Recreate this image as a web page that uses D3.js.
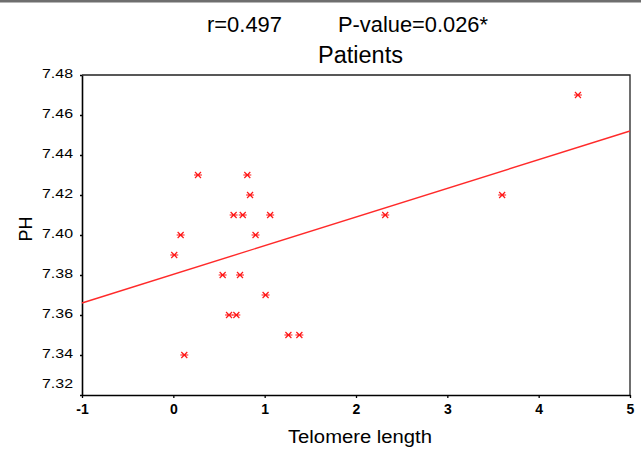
<!DOCTYPE html>
<html>
<head>
  <meta charset="utf-8">
  <script src="https://cdn.jsdelivr.net/npm/d3@7"></script>
  <style>
    body { margin: 0; background: #fff; }
    text { font-family: "Liberation Sans", Arial, sans-serif; fill: #000; }
  </style>
</head>
<body>
<div id="chart"></div>
<script>
  // telomere length vs PH, patients
  var telomere = [0.27, 0.81, 0.84, 0.66, 0.76, 1.06, 0.08, 0.90, 0.01, 0.54,
                  0.73, 1.01, 0.61, 0.69, 1.26, 1.38, 0.12, 4.43, 2.32, 3.60];
  var ph = [7.43, 7.43, 7.42, 7.41, 7.41, 7.41, 7.40, 7.40, 7.39, 7.38,
            7.38, 7.37, 7.36, 7.36, 7.35, 7.35, 7.34, 7.47, 7.41, 7.42];
  var fitX = [-1, 5];
  var fitY = [7.366, 7.452];
  var xTicks = [-1, 0, 1, 2, 3, 4, 5];
  var yTicks = [7.32, 7.34, 7.36, 7.38, 7.40, 7.42, 7.44, 7.46, 7.48];

  var W = 641, H = 449;
  var plotL = 82, plotT = 75, plotR = 630, plotB = 395;

  var svg = d3.select('#chart').append('svg')
      .attr('width', W)
      .attr('height', H);

  svg.append('rect')
      .attr('x', 0).attr('y', 0)
      .attr('width', W).attr('height', 2.5)
      .attr('fill', '#6e6e6e');

  var x = d3.scaleLinear().domain([-1, 5]).range([plotL, plotR]);
  var y = d3.scaleLinear().domain([7.32, 7.48]).range([plotB, plotT]);

  // frame top + right
  svg.append('path')
      .attr('d', ['M', plotL, plotT, 'L', plotR, plotT, 'L', plotR, plotB].join(' '))
      .attr('fill', 'none')
      .attr('stroke', '#222')
      .attr('stroke-width', 1.3);

  var xAxis = svg.append('g')
      .attr('transform', 'translate(0,' + plotB + ')')
      .call(d3.axisBottom(x).tickValues(xTicks).tickSize(3).tickSizeOuter(0).tickPadding(6)
        .tickFormat(function(d) { return String(d); }));

  var yAxis = svg.append('g')
      .attr('transform', 'translate(' + plotL + ',0)')
      .call(d3.axisLeft(y).tickValues(yTicks).tickSize(2).tickSizeOuter(0).tickPadding(7)
        .tickFormat(function(d) { return d.toFixed(2); }));

  [xAxis, yAxis].forEach(function(g) {
    g.select('.domain').attr('stroke', '#000').attr('stroke-width', 1.6);
    g.selectAll('.tick line').attr('stroke', '#000').attr('stroke-width', 1.3);
    g.selectAll('text')
        .style('font-family', '"Liberation Sans", Arial, sans-serif')
        .style('font-weight', 'bold')
        .attr('fill', '#111');
  });
  xAxis.selectAll('text').style('font-size', '14px');
  yAxis.selectAll('text')
      .style('font-size', '13.5px')
      .style('font-weight', 'normal')
      .attr('dy', function(d) { return d === 7.32 ? '-0.55em' : '0.2em'; })
      .attr('textLength', 31)
      .attr('lengthAdjust', 'spacingAndGlyphs');

  // regression line
  var line = d3.line()
      .x(function(d) { return x(d[0]); })
      .y(function(d) { return y(d[1]); });
  svg.append('path')
      .datum(d3.zip(fitX, fitY))
      .attr('d', line)
      .attr('fill', 'none')
      .attr('stroke', '#ff2a2a')
      .attr('stroke-width', 1.4);

  // asterisk markers
  var star = 'M-4,0L4,0M-3,-3L3,3M-3,3L3,-3';
  svg.append('g').selectAll('path')
      .data(d3.zip(telomere, ph))
      .enter().append('path')
      .attr('transform', function(d) { return 'translate(' + x(d[0]) + ',' + y(d[1]) + ')'; })
      .attr('d', star)
      .attr('fill', 'none')
      .attr('stroke', '#ff1a1a')
      .attr('stroke-width', 1.2);

  // titles
  svg.append('text')
      .attr('x', 207).attr('y', 31.5)
      .attr('textLength', 75).attr('lengthAdjust', 'spacingAndGlyphs')
      .style('font-size', '22px')
      .text('r=0.497');
  svg.append('text')
      .attr('x', 338).attr('y', 31.5)
      .attr('textLength', 150).attr('lengthAdjust', 'spacingAndGlyphs')
      .style('font-size', '22px')
      .text('P-value=0.026*');
  svg.append('text')
      .attr('x', 318).attr('y', 63)
      .attr('textLength', 85).attr('lengthAdjust', 'spacingAndGlyphs')
      .style('font-size', '23px')
      .text('Patients');

  svg.append('text')
      .attr('x', 288).attr('y', 443)
      .attr('textLength', 144).attr('lengthAdjust', 'spacingAndGlyphs')
      .style('font-size', '18px')
      .text('Telomere length');

  svg.append('text')
      .attr('transform', 'translate(32,229) rotate(-90)')
      .attr('text-anchor', 'middle')
      .style('font-size', '18px')
      .text('PH');
</script>
</body>
</html>
